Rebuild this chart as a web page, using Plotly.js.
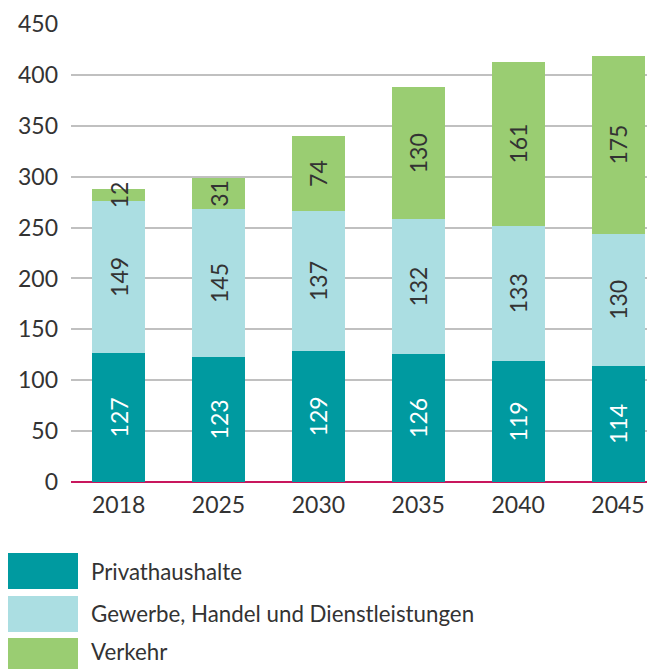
<!DOCTYPE html>
<html><head><meta charset="utf-8">
<script src="https://cdn.plot.ly/plotly-3.0.1.min.js"></script>
<style>html,body{margin:0;padding:0;background:#fff;}#chart{width:647px;height:669px;}</style>
</head><body><div id="chart"></div>
<script>
const years = ['2018','2025','2030','2035','2040','2045'];
const seriesNames = ['Privathaushalte','Gewerbe, Handel und Dienstleistungen','Verkehr'];
const privathaushalte = [127,123,129,126,119,114];
const gewerbe = [149,145,137,132,133,130];
const verkehr = [12,31,74,130,161,175];
const yTicks = [0,50,100,150,200,250,300,350,400,450];

const colors = ['#009aa0','#abdee2','#9acd72'];
const textColors = ['#ffffff','#333333','#333333'];
const font = 'Lato, "Open Sans", sans-serif';
const values = [privathaushalte, gewerbe, verkehr];

const traces = values.map((v,i)=>({
  type:'bar', x: years, y: v, name: seriesNames[i],
  marker:{color: colors[i], line:{width:0}},
  width: 0.53,
  text: v.map(String), textposition:'inside', insidetextanchor:'middle',
  textangle:-90, constraintext:'none',
  textfont:{family: font, size:23, color: textColors[i]},
  hoverinfo:'skip', showlegend:false, cliponaxis:false
}));

const shapes = [];
const annotations = [];
const rowTop = [553, 596, 638];
const textMid = [571, 613, 652];

const H = 669, W = 647;
const mL = 71, mR = 0, mT = 24, mB = 669-482;
const pw = W - mL - mR, ph = H - mT - mB;
function px2paperX(x){ return (x - mL)/pw; }
function px2paperY(y){ return (H - mB - y)/ph; }
seriesNames.forEach((n,i)=>{
  shapes.push({type:'rect', xref:'paper', yref:'paper',
    x0: px2paperX(8), x1: px2paperX(78),
    y0: px2paperY(rowTop[i]), y1: px2paperY(rowTop[i]+36),
    line:{width:0}, fillcolor:colors[i]});
  annotations.push({xref:'paper', yref:'paper', x: px2paperX(89), y: px2paperY(textMid[i]),
    xanchor:'left', yanchor:'middle', text:n, showarrow:false,
    font:{family:font, size:22.3, color:'#333333'}});
});

const layout = {
  width: W, height: H,
  margin:{l:mL, r:mR, t:mT, b:mB, pad:0},
  barmode:'stack',
  paper_bgcolor:'#fff', plot_bgcolor:'#fff',
  font:{family:font, color:'#333333'},
  xaxis:{type:'category', range:[-0.477, 5.29], showgrid:false, zeroline:false,
    showline:false, ticks:'', tickfont:{family:font, size:23, color:'#333333'}, ticklabelstandoff:7},
  yaxis:{range:[0,450], tickvals:yTicks, ticktext:yTicks.map(String), showgrid:true, gridcolor:'#c0c0c0', gridwidth:2,
    zeroline:true, zerolinecolor:'#c8175d', zerolinewidth:2, showline:false, ticks:'',
    tickfont:{family:font, size:23, color:'#333333'}, ticklabelstandoff:12, fixedrange:true},
  shapes: shapes, annotations: annotations, showlegend:false
};
Plotly.newPlot('chart', traces, layout, {staticPlot:true, displayModeBar:false});
</script></body></html>
